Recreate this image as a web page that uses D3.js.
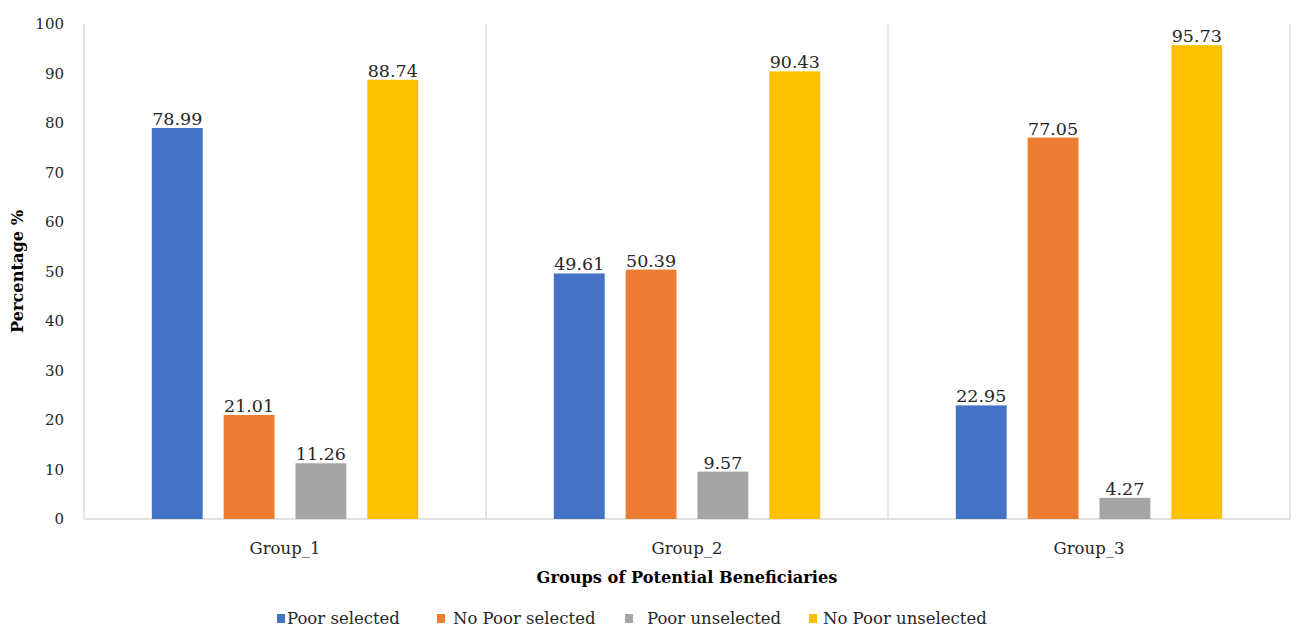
<!DOCTYPE html>
<html>
<head>
<meta charset="utf-8">
<script src="https://cdn.jsdelivr.net/npm/d3@7"></script>
<style>
  html, body { margin: 0; padding: 0; background: #fff; }
  svg { display: block; font-family: "DejaVu Serif", "Liberation Serif", serif; }
</style>
</head>
<body>
<svg id="chart" width="1298" height="628"></svg>
<script>
// Categories and series
const groups = ["Group_1", "Group_2", "Group_3"];
const seriesNames = ["Poor selected", "No Poor selected", "Poor unselected", "No Poor unselected"];
const seriesColors = ["#4472C4", "#ED7D31", "#A5A5A5", "#FFC000"];
const poorSelected = [78.99, 49.61, 22.95];
const noPoorSelected = [21.01, 50.39, 77.05];
const poorUnselected = [11.26, 9.57, 4.27];
const noPoorUnselected = [88.74, 90.43, 95.73];
const yTicks = [0, 10, 20, 30, 40, 50, 60, 70, 80, 90, 100];

const seriesValues = [poorSelected, noPoorSelected, poorUnselected, noPoorUnselected];

const svg = d3.select("#chart");
const margin = { left: 84, right: 8, top: 24, bottom: 109 };
const W = 1298, H = 628;
const plotW = W - margin.left - margin.right;
const plotH = H - margin.top - margin.bottom;

const x0 = d3.scaleBand().domain(groups).range([margin.left, margin.left + plotW]).padding(0);
const x1 = d3.scaleBand().domain(seriesNames).range([0, x0.bandwidth()])
  .paddingInner(0.2917).paddingOuter(0.944);
const y = d3.scaleLinear().domain([0, 100]).range([margin.top + plotH, margin.top]);

const gridColor = "#d9d9d9";
const textColor = "#262626";

// Group separators (vertical lines at every band edge)
const edges = groups.map(g => x0(g)).concat([x0(groups[groups.length - 1]) + x0.bandwidth()]);
svg.append("g").selectAll("line").data(edges).join("line")
  .attr("x1", d => d).attr("x2", d => d)
  .attr("y1", y(100)).attr("y2", y(0))
  .attr("stroke", gridColor).attr("stroke-width", 1.3);

// Baseline
svg.append("line")
  .attr("x1", margin.left).attr("x2", margin.left + plotW)
  .attr("y1", y(0)).attr("y2", y(0))
  .attr("stroke", gridColor).attr("stroke-width", 1.5);

// Y tick labels
svg.append("g").selectAll("text").data(yTicks).join("text")
  .attr("x", 64).attr("y", d => y(d)).attr("dy", "0.35em")
  .attr("text-anchor", "end")
  .attr("font-size", 15).attr("fill", textColor)
  .text(d => d);

// Bars
const barData = [];
groups.forEach((g, gi) => {
  seriesNames.forEach((s, si) => {
    barData.push({ group: g, series: s, value: seriesValues[si][gi], color: seriesColors[si] });
  });
});

svg.append("g").selectAll("rect").data(barData).join("rect")
  .attr("x", d => x0(d.group) + x1(d.series))
  .attr("y", d => y(d.value))
  .attr("width", x1.bandwidth())
  .attr("height", d => y(0) - y(d.value))
  .attr("fill", d => d.color);

// Value labels
svg.append("g").selectAll("text").data(barData).join("text")
  .attr("x", d => x0(d.group) + x1(d.series) + x1.bandwidth() / 2)
  .attr("y", d => y(d.value) - 3)
  .attr("text-anchor", "middle")
  .attr("font-size", 17.5).attr("fill", textColor)
  .text(d => d.value.toFixed(2));

// Group labels
svg.append("g").selectAll("text").data(groups).join("text")
  .attr("x", d => x0(d) + x0.bandwidth() / 2)
  .attr("y", 554)
  .attr("text-anchor", "middle")
  .attr("font-size", 16.5).attr("fill", textColor)
  .text(d => d);

// Axis titles
svg.append("text")
  .attr("x", margin.left + plotW / 2).attr("y", 583)
  .attr("text-anchor", "middle")
  .attr("font-size", 16.2).attr("font-weight", "bold").attr("fill", "#000")
  .text("Groups of Potential Beneficiaries");

svg.append("text")
  .attr("transform", `translate(23,${y(50)}) rotate(-90)`)
  .attr("text-anchor", "middle")
  .attr("font-size", 16.2).attr("font-weight", "bold").attr("fill", "#000")
  .text("Percentage %");

// Legend: swatch and label positions
const swatchX = [277, 437, 625, 809];
const labelX = [287, 453, 647, 823];
const legend = svg.append("g").selectAll("g").data(seriesNames).join("g");
legend.append("rect")
  .attr("x", (d, i) => swatchX[i]).attr("y", 614).attr("width", 8).attr("height", 9)
  .attr("fill", (d, i) => seriesColors[i]);
legend.append("text")
  .attr("x", (d, i) => labelX[i]).attr("y", 618).attr("dy", "0.35em")
  .attr("font-size", 16.5).attr("fill", textColor)
  .text(d => d);
</script>
</body>
</html>
